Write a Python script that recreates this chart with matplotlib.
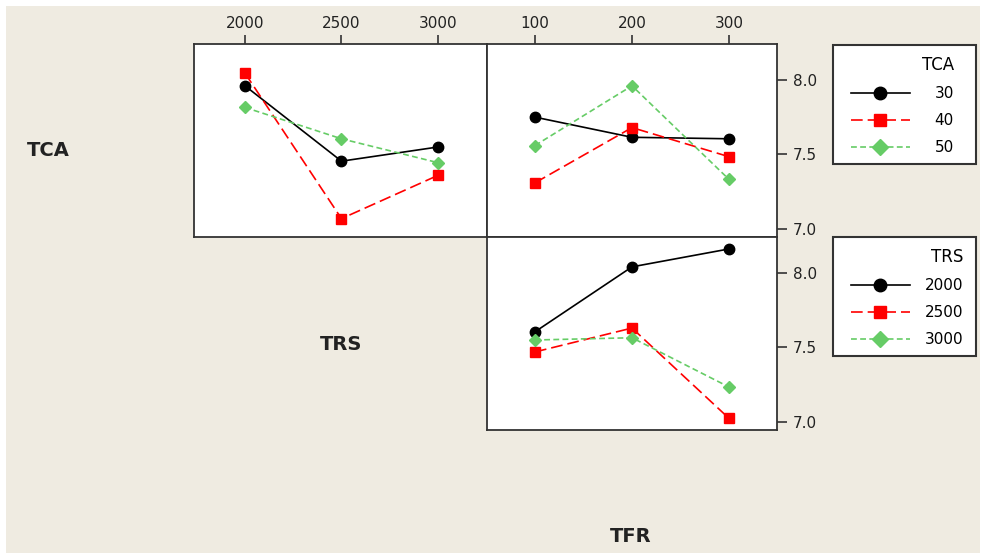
import matplotlib
matplotlib.use("Agg")
import matplotlib.pyplot as plt
from matplotlib.patches import Rectangle
from matplotlib.ticker import FormatStrFormatter

# levels
trs_levels = [2000, 2500, 3000]
tfr_levels = [100, 200, 300]
tca_labels = ["30", "40", "50"]
trs_labels = ["2000", "2500", "3000"]

# means: TCA lines vs TRS (top left)
tca_by_trs_30 = [7.96, 7.455, 7.55]
tca_by_trs_40 = [8.045, 7.07, 7.36]
tca_by_trs_50 = [7.815, 7.605, 7.445]

# means: TCA lines vs TFR (top right)
tca_by_tfr_30 = [7.75, 7.615, 7.605]
tca_by_tfr_40 = [7.31, 7.68, 7.485]
tca_by_tfr_50 = [7.56, 7.96, 7.333]

# means: TRS lines vs TFR (bottom right)
trs_by_tfr_2000 = [7.605, 8.04, 8.16]
trs_by_tfr_2500 = [7.47, 7.63, 7.025]
trs_by_tfr_3000 = [7.55, 7.565, 7.235]

yticks = [7.0, 7.5, 8.0]

W, H = 982, 553
plt.rcParams['font.family'] = 'DejaVu Sans'
fig = plt.figure(figsize=(W / 100, H / 100), dpi=100, facecolor="white")
bg = "#efebe1"
fig.patches.append(Rectangle((6 / W, 0), 974 / W, 547 / H, transform=fig.transFigure,
                             facecolor=bg, edgecolor="none", zorder=-10))

styles = [
    dict(color="black", marker="o", ls="-", ms=7.5),
    dict(color="#ff0000", marker="s", ls=(0, (7, 3)), ms=7),
    dict(color="#66cc66", marker="D", ls=(0, (3.5, 2)), ms=6.5),
]


def fx(px):
    return px / W


def fy(py):
    return 1 - py / H


ax1 = fig.add_axes([fx(194), fy(237), fx(293), 193 / H])
ax2 = fig.add_axes([fx(487), fy(237), fx(290), 193 / H])
ax3 = fig.add_axes([fx(487), fy(430), fx(290), 193 / H])

for vals, st in zip([tca_by_trs_30, tca_by_trs_40, tca_by_trs_50], styles):
    ax1.plot(trs_levels, vals, lw=1.2, color=st["color"], marker=st["marker"],
             linestyle=st["ls"], markersize=st["ms"])
lines_tca = []
for vals, lab, st in zip([tca_by_tfr_30, tca_by_tfr_40, tca_by_tfr_50], tca_labels, styles):
    l, = ax2.plot(tfr_levels, vals, lw=1.2, color=st["color"], marker=st["marker"],
                  linestyle=st["ls"], markersize=st["ms"], label=lab)
    lines_tca.append(l)
lines_trs = []
for vals, lab, st in zip([trs_by_tfr_2000, trs_by_tfr_2500, trs_by_tfr_3000], trs_labels, styles):
    l, = ax3.plot(tfr_levels, vals, lw=1.2, color=st["color"], marker=st["marker"],
                  linestyle=st["ls"], markersize=st["ms"], label=lab)
    lines_trs.append(l)

for ax in (ax1, ax2, ax3):
    ax.set_ylim(6.947, 8.24)
    ax.set_facecolor("white")
    for s in ax.spines.values():
        s.set_color("#333333")
        s.set_linewidth(1.3)
    ax.tick_params(colors="#333333", labelcolor="#222222", labelsize=11, length=7, width=1.2)

ax1.set_xlim(1736, 3254)
ax2.set_xlim(50.5, 349.5)
ax3.set_xlim(50.5, 349.5)

for ax, ticks in ((ax1, trs_levels), (ax2, tfr_levels)):
    ax.xaxis.tick_top()
    ax.set_xticks(ticks)
    ax.set_xticklabels([str(t) for t in ticks])
    ax.tick_params(axis="x", length=6.5, pad=2.5)
ax1.set_yticks([])
ax3.set_xticks([])
for ax in (ax2, ax3):
    ax.yaxis.tick_right()
    ax.set_yticks(yticks)
    ax.yaxis.set_major_formatter(FormatStrFormatter("%.1f"))
    ax.tick_params(axis="y", pad=4.5)

# factor labels
fig.text(fx(48), fy(151), "TCA", ha="center", va="center", fontsize=14, fontweight="bold", color="#222222")
fig.text(fx(341), fy(344), "TRS", ha="center", va="center", fontsize=14, fontweight="bold", color="#222222")
fig.text(fx(631), fy(536), "TFR", ha="center", va="center", fontsize=14, fontweight="bold", color="#222222")

# legends
for top, bot in ((45, 164), (237, 356)):
    fig.patches.append(Rectangle((fx(833), fy(bot)), fx(143), (bot - top) / H, transform=fig.transFigure,
                                 facecolor="white", edgecolor="#333333", lw=1.5, zorder=1))

leg1 = fig.legend(handles=lines_tca, title="TCA", loc="upper left", bbox_to_anchor=(fx(843), fy(48)),
                  frameon=False, borderpad=0, fontsize=11, title_fontsize=12, alignment="right",
                  handlelength=3.9, handletextpad=1.6, labelspacing=0.8, markerscale=1.2)
leg2 = fig.legend(handles=lines_trs, title="TRS", loc="upper left", bbox_to_anchor=(fx(843), fy(240)),
                  frameon=False, borderpad=0, fontsize=11, title_fontsize=12, alignment="right",
                  handlelength=3.9, handletextpad=0.98, labelspacing=0.8, markerscale=1.2)
for lg in (leg1, leg2):
    lg.set_zorder(5)

fig.savefig("out.png", dpi=100, facecolor=fig.get_facecolor())
